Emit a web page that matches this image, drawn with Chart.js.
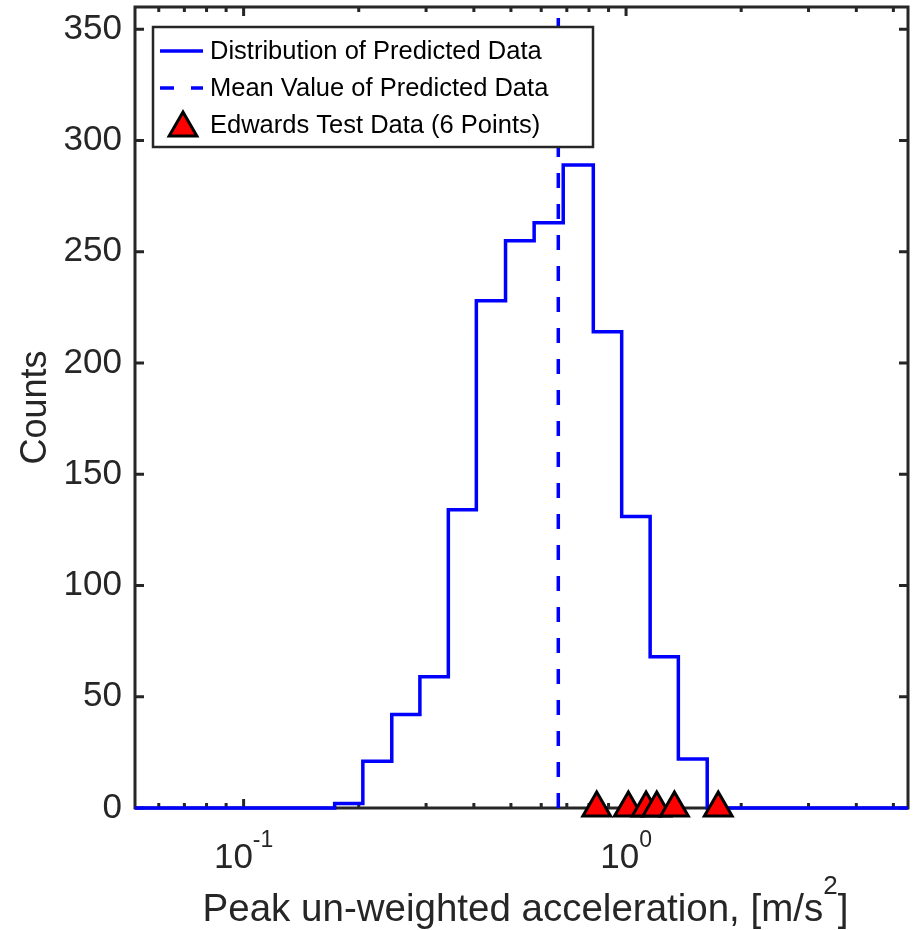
<!DOCTYPE html>
<html><head><meta charset="utf-8">
<script src="https://cdn.jsdelivr.net/npm/chart.js@4.4.0/dist/chart.umd.min.js"></script>
<style>html,body{margin:0;padding:0;background:#fff}#wrap{width:915px;height:930px}</style>
</head><body><div id="wrap"><canvas id="c" width="915" height="930"></canvas></div>
<script>
// ---- data ----
const binEdges = [0.173, 0.205, 0.244, 0.289, 0.343, 0.406, 0.484, 0.575, 0.685, 0.821, 0.974, 1.156, 1.37, 1.63];
const binCounts = [2, 21, 42, 59, 134, 228, 255, 263, 289, 214, 131, 68, 22];
const meanValue = 0.665;
const testData = [0.838, 1.014, 1.128, 1.203, 1.338, 1.742];
const xRange = [0.052, 5.46];
const yRange = [0, 360];
const yTicks = [0, 50, 100, 150, 200, 250, 300, 350];
const xMajorTicks = [0.1, 1];
const xMinorTicks = [0.06, 0.07, 0.08, 0.09, 0.2, 0.3, 0.4, 0.5, 0.6, 0.7, 0.8, 0.9, 2, 3, 4, 5];
const xTickBase = '10';
const xTickExponents = ['-1', '0'];
const legendLabels = ['Distribution of Predicted Data', 'Mean Value of Predicted Data', 'Edwards Test Data (6 Points)'];
const xTitleParts = ['Peak un-weighted acceleration, [m/s', '2', ']'];
const yTitle = 'Counts';

const INK = '#262626';
const BLUE = '#0000ff';
const FONT = "'Liberation Sans', Arial, Helvetica, sans-serif";

// stairs data built from the bins
const histPoints = [{x: xRange[0], y: 0}];
binCounts.forEach((c, i) => histPoints.push({x: binEdges[i], y: c}));
histPoints.push({x: binEdges[binEdges.length - 1], y: 0});
histPoints.push({x: xRange[1], y: 0});

const meanPoints = [{x: meanValue, y: yRange[0]}, {x: meanValue, y: yRange[1]}];
const testPoints = testData.map(v => ({x: v, y: 0}));

function triPath(ctx, x, y, r) {
  ctx.beginPath();
  ctx.moveTo(x, y - r);
  ctx.lineTo(x + Math.sin(2 * Math.PI / 3) * r, y + r / 2);
  ctx.lineTo(x - Math.sin(2 * Math.PI / 3) * r, y + r / 2);
  ctx.closePath();
}

const axesBox = {
  id: 'axesBox',
  beforeDatasetsDraw(chart) {
    const {ctx, chartArea: a, scales: {x, y}} = chart;
    ctx.save();
    ctx.strokeStyle = INK;
    ctx.lineWidth = 3;
    ctx.beginPath();
    yTicks.forEach(v => {
      const py = y.getPixelForValue(v);
      ctx.moveTo(a.left, py); ctx.lineTo(a.left + 9, py);
      ctx.moveTo(a.right, py); ctx.lineTo(a.right - 9, py);
    });
    xMajorTicks.forEach(v => {
      const px = x.getPixelForValue(v);
      ctx.moveTo(px, a.bottom); ctx.lineTo(px, a.bottom - 9);
      ctx.moveTo(px, a.top); ctx.lineTo(px, a.top + 9);
    });
    xMinorTicks.forEach(v => {
      const px = x.getPixelForValue(v);
      ctx.moveTo(px, a.bottom); ctx.lineTo(px, a.bottom - 5);
      ctx.moveTo(px, a.top); ctx.lineTo(px, a.top + 5);
    });
    ctx.stroke();
    ctx.strokeRect(a.left, a.top, a.right - a.left, a.bottom - a.top);
    ctx.restore();
  },
  afterDraw(chart) {
    // x tick labels with superscript exponents, and x title with superscript
    const {ctx, chartArea: a, scales: {x}} = chart;
    ctx.save();
    ctx.fillStyle = INK;
    ctx.textBaseline = 'alphabetic';
    ctx.textAlign = 'left';
    x.ticks.forEach(t => {
      const i = xMajorTicks.findIndex(m => Math.abs(m - t.value) / m < 1e-6);
      if (i < 0) return;
      const px = x.getPixelForValue(t.value);
      ctx.font = '35px ' + FONT;
      const wb = ctx.measureText(xTickBase).width;
      ctx.font = '23px ' + FONT;
      const we = ctx.measureText(xTickExponents[i]).width;
      const sx = px - (wb + we) / 2;
      ctx.font = '35px ' + FONT;
      ctx.fillText(xTickBase, sx, a.bottom + 60);
      ctx.font = '23px ' + FONT;
      ctx.fillText(xTickExponents[i], sx + wb, a.bottom + 39);
    });
    ctx.font = '38.5px ' + FONT;
    const w0 = ctx.measureText(xTitleParts[0]).width;
    const w2 = ctx.measureText(xTitleParts[2]).width;
    ctx.font = '26px ' + FONT;
    const w1 = ctx.measureText(xTitleParts[1]).width;
    const cx = (a.left + a.right) / 2 + 4;
    let sx = cx - (w0 + w1 + w2) / 2;
    const base = chart.height - 9;
    ctx.font = '38.5px ' + FONT;
    ctx.fillText(xTitleParts[0], sx, base);
    ctx.font = '26px ' + FONT;
    ctx.fillText(xTitleParts[1], sx + w0, base - 27);
    ctx.font = '38.5px ' + FONT;
    ctx.fillText(xTitleParts[2], sx + w0 + w1, base);
    ctx.restore();
  }
};

const boxLegend = {
  id: 'boxLegend',
  afterDatasetsDraw(chart) {
    const {ctx, chartArea: a} = chart;
    const L = a.left + 18, T = a.top + 20, W = 440, H = 120;
    ctx.save();
    ctx.fillStyle = '#fff';
    ctx.fillRect(L, T, W, H);
    ctx.strokeStyle = INK;
    ctx.lineWidth = 2.5;
    ctx.strokeRect(L, T, W, H);
    const rows = [T + 24, T + 61, T + 98];
    // solid line sample
    ctx.strokeStyle = BLUE; ctx.lineWidth = 3.5;
    ctx.beginPath(); ctx.moveTo(L + 7, rows[0]); ctx.lineTo(L + 50, rows[0]); ctx.stroke();
    // dashed sample
    ctx.setLineDash([14, 17]);
    ctx.beginPath(); ctx.moveTo(L + 7, rows[1]); ctx.lineTo(L + 50, rows[1]); ctx.stroke();
    ctx.setLineDash([]);
    // triangle sample
    triPath(ctx, L + 30, rows[2] + 3, 16);
    ctx.fillStyle = '#ff0000'; ctx.fill();
    ctx.strokeStyle = '#000'; ctx.lineWidth = 3; ctx.lineJoin = 'miter'; ctx.stroke();
    // text
    ctx.fillStyle = '#000';
    ctx.font = '25.5px ' + FONT;
    ctx.textBaseline = 'middle';
    ctx.textAlign = 'left';
    legendLabels.forEach((t, i) => ctx.fillText(t, L + 57, rows[i] + 1));
    ctx.restore();
  }
};

function noPad(s) { s.paddingTop = 0; s.paddingBottom = 0; s.paddingLeft = 0; s.paddingRight = 0; }

new Chart(document.getElementById('c'), {
  type: 'line',
  data: {
    datasets: [
      {label: legendLabels[0], data: histPoints, borderColor: BLUE, borderWidth: 3.5, stepped: 'before',
       pointRadius: 0, fill: false, clip: false, order: 3},
      {label: legendLabels[1], data: meanPoints, borderColor: BLUE, borderWidth: 3.5, borderDash: [15, 16],
       pointRadius: 0, fill: false, clip: false, order: 2},
      {label: legendLabels[2], data: testPoints, showLine: false, pointStyle: 'triangle', pointRadius: 16,
       pointBackgroundColor: '#ff0000', pointBorderColor: '#000', pointBorderWidth: 3, clip: false, order: 1}
    ]
  },
  options: {
    responsive: false, animation: false, devicePixelRatio: 1,
    layout: {autoPadding: false, padding: {top: 7, right: 7, left: 0, bottom: 0}},
    plugins: {legend: {display: false}, tooltip: {enabled: false}},
    scales: {
      x: {
        type: 'logarithmic', min: xRange[0], max: xRange[1], position: 'bottom',
        grid: {display: false, drawTicks: false}, border: {display: false},
        ticks: {display: false, autoSkip: false, maxRotation: 0, minRotation: 0},
        title: {display: false},
        afterFit: (s) => { s.height = 122; noPad(s); }
      },
      y: {
        type: 'linear', min: yRange[0], max: yRange[1],
        grid: {display: false, drawTicks: false}, border: {display: false},
        ticks: {stepSize: 50, includeBounds: false, padding: 13, color: INK, font: {family: FONT, size: 35}},
        title: {display: true, text: yTitle, color: INK, font: {family: FONT, size: 36}, padding: {top: 14, bottom: 0}},
        afterFit: (s) => { s.width = 135; noPad(s); }
      }
    }
  },
  plugins: [axesBox, boxLegend]
});
</script></body></html>
